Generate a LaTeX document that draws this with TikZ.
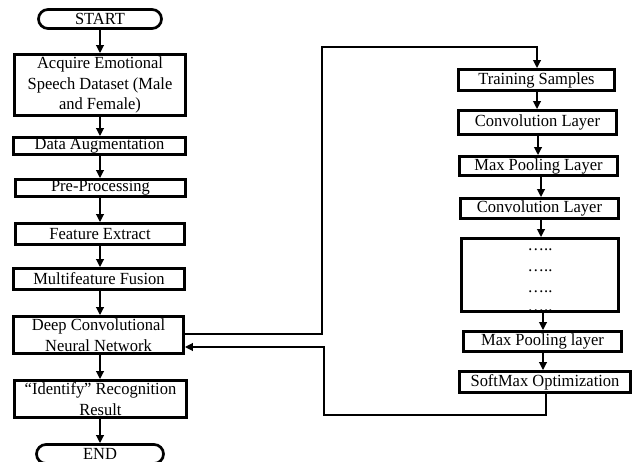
\documentclass[tikz,border=0pt]{standalone}
\usepackage{fontspec}
\setmainfont[FakeStretch=0.97]{Liberation Serif}
\usetikzlibrary{arrows.meta,shapes.misc}
\begin{document}
\begin{tikzpicture}[x=1pt,y=-1pt,
  txt/.style={font=\fontsize{17}{20.5}\selectfont},
  box/.style={draw,line width=2.7pt,inner sep=0pt,align=center,txt},
  term/.style={box,rounded rectangle},
  arr/.style={line width=2pt,-{Triangle[length=8pt,width=7.5pt]}},
  link/.style={line width=2pt}]
\useasboundingbox (0,0) rectangle (636,462);
\fill[white] (0,0) rectangle (636,462);
\clip (0,0) rectangle (636,462);
% left column
\node[term,minimum width=123pt,minimum height=19pt] (start) at (100,19) {START};
\node[box,minimum width=171pt,minimum height=61pt] (acq) at (100,85) {Acquire Emotional\\Speech Dataset (Male\\and Female)};
\node[box,minimum width=172pt,minimum height=17pt] (aug) at (99.5,146) {Data Augmentation};
\node[box,minimum width=170pt,minimum height=17pt] (pre) at (100.5,188) {Pre-Processing};
\node[box,minimum width=169pt,minimum height=21pt] (feat) at (100,234) {Feature Extract};
\node[box,minimum width=171pt,minimum height=21pt] (fus) at (99,279) {Multifeature Fusion};
\node[box,minimum width=170pt,minimum height=37pt] (dcnn) at (98.5,335) {Deep Convolutional\\Neural Network};
\node[box,minimum width=172pt,minimum height=37pt] (ident) at (100.5,399) {“Identify” Recognition\\Result};
\node[term,minimum width=127pt,minimum height=19pt] (end) at (100,454) {END};
% right column
\node[box,minimum width=156pt,minimum height=21pt] (ts) at (536.5,80) {Training Samples};
\node[box,minimum width=158pt,minimum height=24pt] (cl1) at (537.5,122.5) {Convolution Layer};
\node[box,minimum width=158pt,minimum height=19pt] (mp1) at (538.5,166) {Max Pooling Layer};
\node[box,minimum width=158pt,minimum height=20pt] (cl2) at (539.5,208.5) {Convolution Layer};
\node[box,minimum width=157pt,minimum height=73pt] (dots) at (540,275) {};
\node[txt,anchor=base] (d1) at (540,250) {…..};
\node[txt,anchor=base] (d2) at (540,271) {…..};
\node[txt,anchor=base] (d3) at (540,292) {…..};
\node[txt,anchor=base] (d4) at (540,311) {…..};
\node[box,minimum width=158pt,minimum height=20pt] (mp2) at (542.5,341.5) {Max Pooling layer};
\node[box,minimum width=171pt,minimum height=21pt] (sm) at (545,382) {SoftMax Optimization};
% left arrows
\foreach \a/\b in {start/acq,acq/aug,aug/pre,pre/feat,feat/fus,fus/dcnn,dcnn/ident,ident/end}
  \draw[arr] (\a.south -| 100,0) -- (\b.north -| 100,0);
% right arrows
\draw[arr] (ts.south -| 537,0) -- (cl1.north -| 537,0);
\draw[arr] (cl1.south -| 538,0) -- (mp1.north -| 538,0);
\draw[arr] (mp1.south -| 541,0) -- (cl2.north -| 541,0);
\draw[arr] (cl2.south -| 541,0) -- (dots.north -| 541,0);
\draw[arr] (dots.south -| 543,0) -- (mp2.north -| 543,0);
\draw[arr] (mp2.south -| 543,0) -- (sm.north -| 543,0);
% loop connectors
\coordinate (c1) at (322,47);
\coordinate (c2) at (324,415);
\draw[arr] ([yshift=1pt]dcnn.east) -| (c1) -| (ts.north -| 537,0);
\draw[arr] (sm.south -| 546,0) |- (c2) |- ([yshift=-12pt]dcnn.east);
\end{tikzpicture}
\end{document}
